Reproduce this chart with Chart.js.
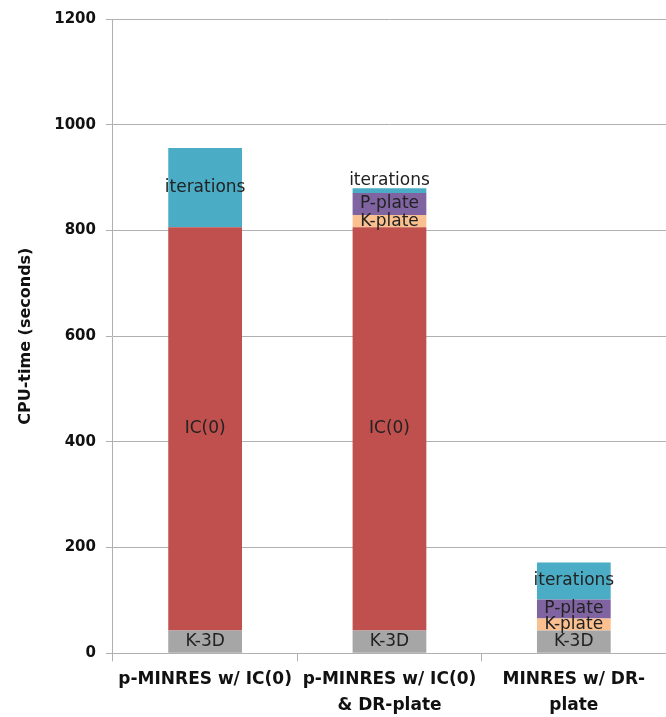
<!DOCTYPE html>
<html>
<head>
<meta charset="utf-8">
<script src="https://cdn.jsdelivr.net/npm/chart.js@4"></script>
<style>
  html, body { margin: 0; padding: 0; background: #fff; }
  #wrap { width: 666px; height: 717px; }
</style>
</head>
<body>
<div id="wrap"><canvas id="cpuChart"></canvas></div>
<script>
// values (seconds)
const methods = [
  ['p-MINRES w/ IC(0)'],
  ['p-MINRES w/ IC(0)', '& DR-plate'],
  ['MINRES w/ DR-', 'plate']
];
const k3d = [43, 43, 43];
const ic0 = [763, 763, 0];
const kPlate = [0, 23, 23];
const pPlate = [0, 42, 36];
const iterations = [150, 9, 70];

const yTicks = [0, 200, 400, 600, 800, 1000, 1200];

const gridGray = '#b0b0b0';

// draws the segment names inside the bars
const segmentLabels = {
  id: 'segmentLabels',
  afterDatasetsDraw(chart) {
    const ctx = chart.ctx;
    const last = chart.data.datasets.length - 1;
    ctx.save();
    ctx.font = '17px "DejaVu Sans"';
    ctx.fillStyle = '#222';
    ctx.textAlign = 'center';
    chart.data.datasets.forEach((ds, i) => {
      const meta = chart.getDatasetMeta(i);
      meta.data.forEach((bar, j) => {
        if (!ds.data[j]) return;
        const p = bar.getProps(['x', 'y', 'base'], true);
        const h = Math.abs(p.base - p.y);
        if (i === last && h < 10) {
          ctx.textBaseline = 'bottom';
          ctx.fillText(ds.label, p.x, p.y + 1);
        } else {
          ctx.textBaseline = 'middle';
          ctx.fillText(ds.label, p.x, (p.y + p.base) / 2);
        }
      });
    });
    ctx.restore();
  }
};

const ctx = document.getElementById('cpuChart').getContext('2d');

new Chart(ctx, {
  type: 'bar',
  data: {
    labels: methods,
    datasets: [
      { label: 'K-3D', data: k3d, backgroundColor: '#a6a6a6' },
      { label: 'IC(0)', data: ic0, backgroundColor: '#c0504d' },
      { label: 'K-plate', data: kPlate, backgroundColor: '#fac090' },
      { label: 'P-plate', data: pPlate, backgroundColor: '#8064a2' },
      { label: 'iterations', data: iterations, backgroundColor: '#4bacc6' }
    ]
  },
  options: {
    responsive: true,
    maintainAspectRatio: false,
    animation: false,
    layout: { padding: { top: 17, left: 16, right: 0, bottom: -7 } },
    datasets: { bar: { categoryPercentage: 1, barPercentage: 0.4 } },
    plugins: {
      legend: { display: false },
      tooltip: { enabled: false }
    },
    scales: {
      x: {
        stacked: true,
        grid: {
          offset: true,
          drawOnChartArea: false,
          tickLength: 8,
          color: gridGray
        },
        border: { color: gridGray },
        ticks: {
          maxRotation: 0,
          autoSkip: false,
          padding: 5,
          color: '#111',
          font: { family: 'DejaVu Sans', weight: 'bold', size: 17, lineHeight: 1.55 }
        }
      },
      y: {
        stacked: true,
        min: 0,
        max: 1200,
        afterBuildTicks(scale) {
          scale.ticks = yTicks.map(v => ({ value: v }));
        },
        grid: { color: gridGray, tickLength: 7 },
        border: { color: gridGray },
        ticks: {
          padding: 10,
          color: '#111',
          font: { family: 'DejaVu Sans', weight: 'bold', size: 15 },
          callback: v => String(v)
        },
        title: {
          display: true,
          text: 'CPU-time (seconds)',
          color: '#111',
          padding: { top: 0, bottom: 9 },
          font: { family: 'DejaVu Sans', weight: 'bold', size: 16 }
        }
      }
    }
  },
  plugins: [segmentLabels]
});
</script>
</body>
</html>
